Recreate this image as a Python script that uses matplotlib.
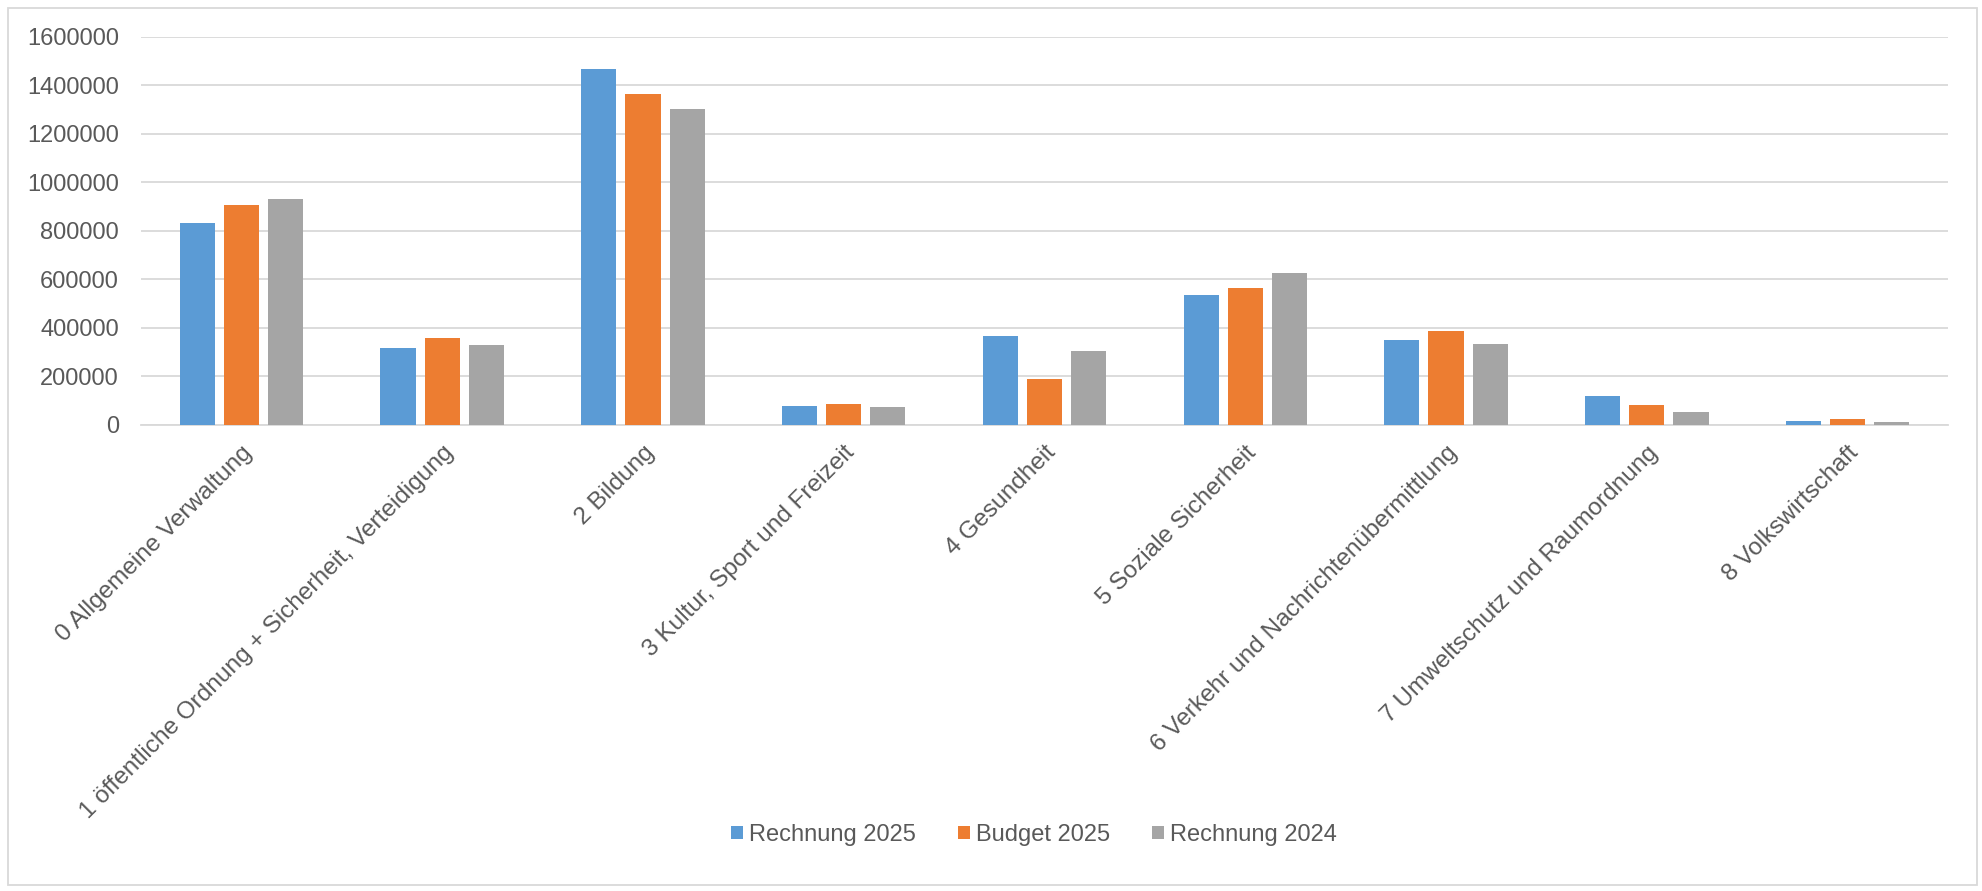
import matplotlib
matplotlib.use("Agg")
import matplotlib.pyplot as plt
import numpy as np
from matplotlib.patches import Rectangle

categories = [
    "0 Allgemeine Verwaltung",
    "1 öffentliche Ordnung + Sicherheit, Verteidigung",
    "2 Bildung",
    "3 Kultur, Sport und Freizeit",
    "4 Gesundheit",
    "5 Soziale Sicherheit",
    "6 Verkehr und Nachrichtenübermittlung",
    "7 Umweltschutz und Raumordnung",
    "8 Volkswirtschaft",
]
series_names = ["Rechnung 2025", "Budget 2025", "Rechnung 2024"]
rechnung_2025 = [833000, 316000, 1467000, 78000, 365000, 535000, 349000, 121000, 16000]
budget_2025 = [906000, 360000, 1366000, 87000, 190000, 566000, 388000, 83000, 23000]
rechnung_2024 = [933000, 330000, 1304000, 76000, 306000, 628000, 335000, 52000, 14000]
y_ticks = [0, 200000, 400000, 600000, 800000, 1000000, 1200000, 1400000, 1600000]

colors = ["#5B9BD5", "#ED7D31", "#A5A5A5"]
text_color = "#595959"
grid_color = "#D9D9D9"

plt.rcParams["font.family"] = ["Liberation Sans", "DejaVu Sans"]

fig = plt.figure(figsize=(19.82, 8.91), dpi=100)
ax = fig.add_axes([141 / 1982, 1 - 425 / 891, (1948 - 141) / 1982, (425 - 37) / 891])

x = np.arange(len(categories))
width = 0.175
step = 0.22
all_series = [rechnung_2025, budget_2025, rechnung_2024]
for k, (vals, name) in enumerate(zip(all_series, series_names)):
    ax.bar(x + (k - 1) * step, vals, width, color=colors[k], label=name, zorder=3)

ax.set_xlim(-0.5, len(categories) - 0.5)
ax.set_ylim(0, 1600000)
ax.set_yticks(y_ticks)
ax.set_yticklabels([str(v) for v in y_ticks])
ax.set_xticks(x)
ax.set_xticklabels(categories, rotation=45, ha="right", rotation_mode="anchor")

# grid, no frame
ax.grid(axis="y", color=grid_color, linewidth=1.3, zorder=0)
for s in ["top", "right", "left"]:
    ax.spines[s].set_visible(False)
ax.spines["bottom"].set_color(grid_color)
ax.spines["bottom"].set_linewidth(1.3)
ax.tick_params(axis="both", length=0, labelcolor=text_color)
ax.tick_params(axis="y", pad=16, labelsize=17)
ax.tick_params(axis="x", pad=12, labelsize=17.6)

fig.legend(loc="center", bbox_to_anchor=(1034 / 1982, 1 - 835 / 891), ncol=3,
           frameon=False, fontsize=17, labelcolor=text_color,
           handlelength=0.5, handleheight=0.5, handletextpad=0.25, columnspacing=1.8)

# outer chart border
fig.patches.append(Rectangle((8 / 1982, 6 / 891), (1977 - 8) / 1982, (884 - 7) / 891,
                             transform=fig.transFigure, fill=False,
                             edgecolor=grid_color, linewidth=1.3))

plt.savefig("out.png", dpi=100)
